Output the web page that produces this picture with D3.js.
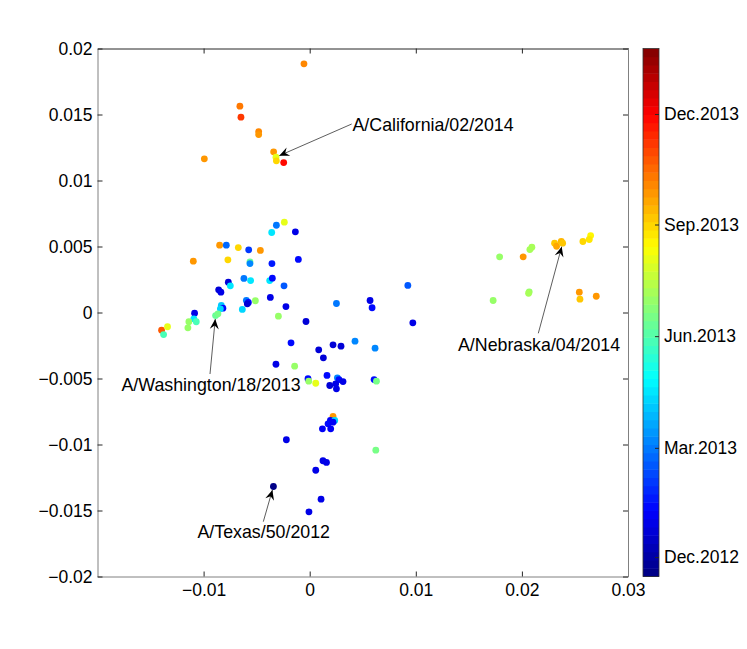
<!DOCTYPE html>
<html>
<head>
<meta charset="utf-8">
<script src="https://cdn.jsdelivr.net/npm/d3@7"></script>
<style>
  body { margin: 0; background: #fff; }
  text { font-family: "Liberation Sans", Arial, Helvetica, sans-serif; }
</style>
</head>
<body>
<div id="chart"></div>
<script>

// antigenic map coordinates of each strain
var xVals = [-0.00054, -0.00658, -0.00648, -0.00481, -0.00481, -0.00993, -0.00340, -0.00318, -0.00314, -0.00245,
  -0.00314, -0.00239, -0.00358, -0.00135, -0.00849, -0.00786, -0.00673, -0.00575, -0.00465, -0.01097,
  -0.00771, -0.00563, -0.00563, -0.00356, -0.00107, -0.00767, -0.00748, -0.00620, -0.00557, -0.00377,
  -0.00352, -0.00242, -0.00858, -0.00837, -0.00597, -0.00578, -0.00588, -0.00635, -0.00512, -0.00371,
  -0.00224, -0.00295, -0.00035, 0.00252, -0.00833, -0.00818, -0.00842, -0.00887, -0.00865, -0.01085,
  -0.01092, -0.01139, -0.01069, -0.01148, -0.01396, -0.01340, -0.01377, 0.00925, 0.00569, 0.00588,
  0.00972, -0.00176, 0.00085, 0.00129, 0.00220, 0.00295, 0.00427, 0.00616, -0.00318, -0.00142,
  -0.00016, -0.00009, 0.00057, 0.00163, 0.00261, 0.00276, 0.00189, 0.00245, 0.00252, 0.00314,
  0.00607, 0.00629, 0.00220, 0.00195, 0.00236, 0.00173, 0.00220, 0.00120, 0.00198, -0.00220,
  0.00623, 0.00125, 0.00158, 0.00057, -0.00342, 0.00107, -0.00007, 0.02648, 0.02635, 0.02575,
  0.02308, 0.02327, 0.02371, 0.02384, 0.02094, 0.02075, 0.02012, 0.01790, 0.02069, 0.02063,
  0.01729, 0.02541, 0.02547, 0.02701];

var yVals = [0.01884, 0.01563, 0.01480, 0.01371, 0.01348, 0.01164, 0.01217, 0.01177, 0.01149, 0.01136,
  0.00661, 0.00684, 0.00606, 0.00611, 0.00510, 0.00510, 0.00492, 0.00475, 0.00470, 0.00389,
  0.00399, 0.00384, 0.00371, 0.00371, 0.00402, 0.00230, 0.00202, 0.00258, 0.00242, 0.00242,
  0.00260, 0.00202, 0.00172, 0.00154, 0.00091, 0.00076, 0.00066, 0.00023, 0.00089, 0.00114,
  0.00045, -0.00028, -0.00068, 0.00068, 0.00053, 0.00033, 0.00028, -0.00023, -0.00010, -0.00005,
  -0.00048, -0.00070, -0.00070, -0.00116, -0.00134, -0.00108, -0.00167, 0.00205, 0.00091, 0.00036,
  -0.00078, -0.00230, -0.00283, -0.00343, -0.00245, -0.00255, -0.00217, -0.00270, -0.00392, -0.00407,
  -0.00502, -0.00520, -0.00536, -0.00477, -0.00495, -0.00508, -0.00553, -0.00540, -0.00578, -0.00523,
  -0.00508, -0.00520, -0.00788, -0.00818, -0.00818, -0.00843, -0.00831, -0.00881, -0.00881, -0.00964,
  -0.01043, -0.01123, -0.01136, -0.01195, -0.01318, -0.01414, -0.01510, 0.00583, 0.00553, 0.00538,
  0.00525, 0.00502, 0.00538, 0.00525, 0.00495, 0.00477, 0.00422, 0.00422, 0.00157, 0.00146,
  0.00091, 0.00154, 0.00101, 0.00123];

// collection date of each strain (drives the colour)
var dates = ["2013-10-01", "2013-10-10", "2013-11-05", "2013-10-01", "2013-09-28", "2013-09-24", "2013-09-24", "2013-08-05", "2013-09-01", "2013-11-25",
  "2013-03-01", "2013-08-01", "2013-04-20", "2012-12-28", "2013-09-26", "2013-02-20", "2013-09-03", "2013-02-01", "2013-09-28", "2013-09-24",
  "2013-09-03", "2013-06-10", "2013-03-10", "2013-01-20", "2013-01-15", "2012-12-23", "2013-04-15", "2013-03-01", "2013-04-15", "2013-04-20",
  "2013-01-10", "2013-02-15", "2012-12-23", "2012-12-28", "2013-03-01", "2013-01-15", "2012-12-23", "2013-04-10", "2013-07-01", "2013-01-01",
  "2013-01-01", "2013-07-01", "2012-12-23", "2013-02-25", "2013-04-05", "2013-01-15", "2013-04-10", "2013-06-10", "2013-06-15", "2013-01-01",
  "2013-04-20", "2013-07-01", "2013-05-25", "2013-07-01", "2013-10-25", "2013-08-05", "2013-05-25", "2013-02-15", "2012-12-28", "2013-01-10",
  "2012-12-28", "2013-01-15", "2012-12-25", "2012-12-25", "2012-12-25", "2012-12-25", "2013-03-05", "2013-03-05", "2012-12-28", "2013-07-01",
  "2013-01-10", "2013-07-01", "2013-08-05", "2013-01-15", "2013-03-05", "2013-01-10", "2012-12-25", "2013-01-01", "2013-01-01", "2013-01-01",
  "2013-01-15", "2013-06-20", "2013-09-28", "2013-01-05", "2013-04-10", "2013-01-15", "2013-01-05", "2013-01-05", "2013-01-05", "2013-01-01",
  "2013-06-20", "2013-01-01", "2013-01-01", "2013-01-01", "2012-11-18", "2013-01-01", "2013-01-01", "2013-08-15", "2013-08-25", "2013-09-03",
  "2013-09-10", "2013-09-20", "2013-09-15", "2013-09-08", "2013-07-05", "2013-07-05", "2013-09-28", "2013-07-01", "2013-07-01", "2013-07-10",
  "2013-07-01", "2013-09-28", "2013-09-08", "2013-09-28"];

var xTicks = [-0.01, 0, 0.01, 0.02, 0.03];
var yTicks = [-0.02, -0.015, -0.01, -0.005, 0, 0.005, 0.01, 0.015, 0.02];
var colorRange = ["2012-11-15", "2014-01-24"];
var colorTicks = ["2012-12-01", "2013-03-01", "2013-06-01", "2013-09-01", "2013-12-01"];

// labelled strains: name and index into the arrays above
var labelNames = ["A/California/02/2014", "A/Washington/18/2013", "A/Texas/50/2012", "A/Nebraska/04/2014"];
var labelIndex = [7, 47, 94, 103];

var width = 747, height = 649;
var plot = {left: 97.5, right: 628, top: 48.5, bottom: 576.5};
var bar = {left: 643, right: 659};
var fontSize = "17.5px";

var parse = d3.timeParse("%Y-%m-%d");

var svg = d3.select("#chart").append("svg")
  .attr("width", width)
  .attr("height", height);

var x = d3.scaleLinear().domain([-0.02, 0.03]).range([plot.left, plot.right]);
var y = d3.scaleLinear().domain([-0.02, 0.02]).range([plot.bottom, plot.top]);

// matlab style jet colormap, 64 steps
var nLevels = 64;
function jet(t) {
  function c(v) { return Math.max(0, Math.min(1, v)) * 255; }
  return d3.rgb(c(1.5 - Math.abs(4 * t - 3)), c(1.5 - Math.abs(4 * t - 2)), c(1.5 - Math.abs(4 * t - 1))).toString();
}
function level(t) {
  return Math.max(0, Math.min(nLevels - 1, Math.floor(t * nLevels)));
}
var tScale = d3.scaleTime().domain(colorRange.map(parse)).range([0, 1]);
function colorOf(d) {
  return jet((level(tScale(d)) + 0.5) / nLevels);
}

var points = xVals.map(function (d, i) {
  return {x: d, y: yVals[i], date: parse(dates[i])};
});

// axes, ticks pointing inward on every side
var fmt = d3.format("");
var bottomAxis = svg.append("g")
  .attr("transform", "translate(0," + plot.bottom + ")")
  .call(d3.axisBottom(x).tickValues(xTicks).tickFormat(fmt).tickSizeInner(-5).tickSizeOuter(0).tickPadding(7));
var leftAxis = svg.append("g")
  .attr("transform", "translate(" + plot.left + ",0)")
  .call(d3.axisLeft(y).tickValues(yTicks).tickFormat(fmt).tickSizeInner(-5).tickSizeOuter(0).tickPadding(5));
var topAxis = svg.append("g")
  .attr("transform", "translate(0," + plot.top + ")")
  .call(d3.axisTop(x).tickValues(xTicks).tickFormat("").tickSizeInner(-5).tickSizeOuter(0));
var rightAxis = svg.append("g")
  .attr("transform", "translate(" + plot.right + ",0)")
  .call(d3.axisRight(y).tickValues(yTicks).tickFormat("").tickSizeInner(-5).tickSizeOuter(0));

[bottomAxis, leftAxis, rightAxis].forEach(function (a) {
  a.select(".domain").attr("stroke", "#808080");
});
topAxis.select(".domain").attr("stroke", "#262626");
svg.selectAll(".tick line").attr("stroke", "#262626");
svg.selectAll(".tick text")
  .style("font-size", fontSize)
  .attr("fill", "#000");

// points
svg.append("g")
  .selectAll("circle")
  .data(points)
  .enter()
  .append("circle")
  .attr("cx", function (d) { return x(d.x); })
  .attr("cy", function (d) { return y(d.y); })
  .attr("r", 3.4)
  .attr("fill", function (d) { return colorOf(d.date); });

// annotations
var defs = svg.append("defs");
defs.append("marker")
  .attr("id", "head")
  .attr("viewBox", "-12 -6 14 12")
  .attr("markerWidth", 14)
  .attr("markerHeight", 12)
  .attr("markerUnits", "userSpaceOnUse")
  .attr("refX", 0)
  .attr("refY", 0)
  .attr("orient", "auto")
  .append("path")
  .attr("d", "M0,0 L-10,-4.5 L-6.5,0 L-10,4.5 Z")
  .attr("fill", "#000");

// tail of each arrow and text anchor (pixels)
var labelLayout = [
  {tx: 351.7, ty: 124, lx: 352.5, ly: 131},
  {tx: 210, ty: 374, lx: 121.5, ly: 391},
  {tx: 263.3, ty: 521.7, lx: 197.5, ly: 538},
  {tx: 538.3, ty: 333.3, lx: 458, ly: 351}
];

var ann = svg.append("g");
labelNames.forEach(function (name, i) {
  var p = points[labelIndex[i]];
  var px = x(p.x), py = y(p.y);
  var L = labelLayout[i];
  var dx = L.tx - px, dy = L.ty - py, len = Math.sqrt(dx * dx + dy * dy);
  var off = 3.6;
  ann.append("line")
    .attr("x1", L.tx)
    .attr("y1", L.ty)
    .attr("x2", px + dx / len * off)
    .attr("y2", py + dy / len * off)
    .attr("stroke", "#333")
    .attr("stroke-width", 0.8)
    .attr("marker-end", "url(#head)");
  ann.append("text")
    .attr("x", L.lx)
    .attr("y", L.ly)
    .style("font-size", "17.8px")
    .attr("fill", "#000")
    .text(name);
});

// colorbar
var cy = d3.scaleTime().domain(colorRange.map(parse)).range([plot.bottom, plot.top]);
var step = (plot.bottom - plot.top) / nLevels;
var cb = svg.append("g");
cb.selectAll("rect")
  .data(d3.range(nLevels))
  .enter()
  .append("rect")
  .attr("x", bar.left)
  .attr("y", function (d) { return plot.bottom - (d + 1) * step; })
  .attr("width", bar.right - bar.left)
  .attr("height", step + 0.5)
  .attr("fill", function (d) { return jet((d + 0.5) / nLevels); });
cb.append("rect")
  .attr("x", bar.left)
  .attr("y", plot.top)
  .attr("width", bar.right - bar.left)
  .attr("height", plot.bottom - plot.top)
  .attr("fill", "none")
  .attr("stroke", "#333")
  .attr("stroke-width", 0.8);

var cbAxis = svg.append("g")
  .attr("transform", "translate(" + bar.right + ",0)")
  .call(d3.axisRight(cy).tickValues(colorTicks.map(parse)).tickFormat(d3.timeFormat("%b.%Y"))
    .tickSizeInner(-4).tickSizeOuter(0).tickPadding(5));
cbAxis.select(".domain").remove();
cbAxis.selectAll(".tick line").attr("stroke", "#262626");
cbAxis.selectAll(".tick text").style("font-size", fontSize).attr("fill", "#000");

</script>
</body>
</html>
